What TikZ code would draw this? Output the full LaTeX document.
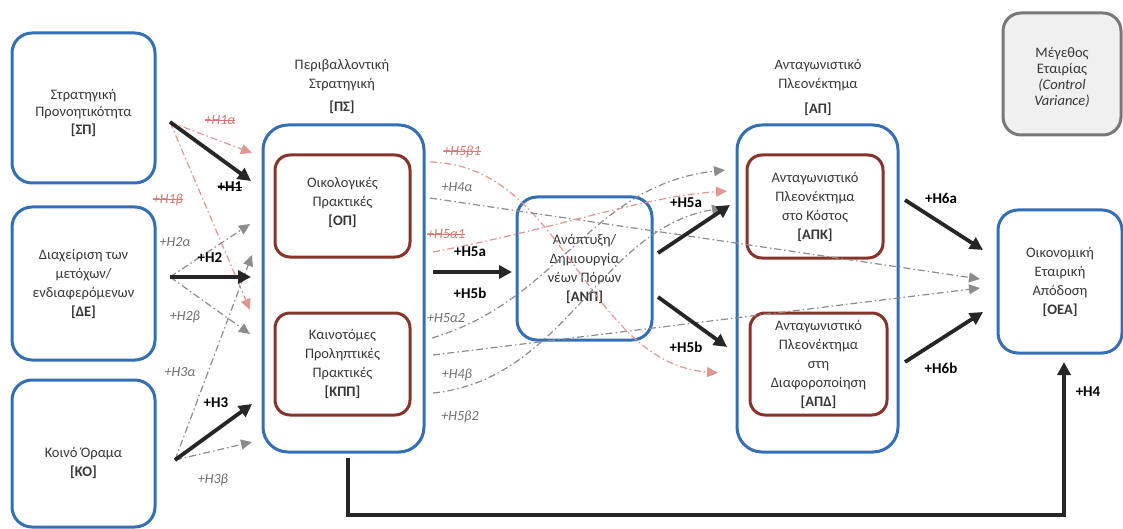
\documentclass[tikz,border=0pt]{standalone}
\usepackage{fontspec}
\setmainfont{Carlito}
\usetikzlibrary{arrows.meta}
\definecolor{bxblue}{RGB}{52,110,180}
\definecolor{bxred}{RGB}{135,50,42}
\definecolor{bxgray}{RGB}{120,120,120}
\definecolor{fillgray}{RGB}{240,240,240}
\definecolor{txt}{RGB}{55,55,55}
\definecolor{arrblk}{RGB}{38,38,38}
\definecolor{dgray}{RGB}{140,140,140}
\definecolor{dpink}{RGB}{225,150,145}
\definecolor{lgray}{RGB}{110,110,110}
\definecolor{lpink}{RGB}{215,120,115}
\newcommand{\stk}[1]{\setbox0=\hbox{#1}\rlap{\rule[0.28em]{\wd0}{0.07em}}\box0}
\begin{document}
\begin{tikzpicture}[x=1pt,y=-1pt,
  font=\fontsize{14.5}{19}\selectfont, text=txt,
  bluebox/.style={draw=bxblue, line width=3pt, rounded corners=20pt, align=center, inner sep=0pt},
  redbox/.style={draw=bxred, line width=3pt, rounded corners=15pt, align=center, inner sep=0pt},
  graybox/.style={draw=bxgray, fill=fillgray, line width=3pt, rounded corners=18pt, align=center, inner sep=0pt},
  ttl/.style={align=center},
  bigarrow/.style={draw=arrblk, line width=3.8pt, -{Triangle[length=13pt,width=13pt]}},
  dd/.style={dash pattern=on 7pt off 3pt on 1.5pt off 3pt, line width=1.2pt, -{Triangle[length=11pt,width=10pt]}},
  ddg/.style={dd, draw=dgray},
  ddp/.style={dd, draw=dpink},
  hb/.style={font=\fontsize{15}{15}\selectfont\bfseries, text=black, inner sep=0pt},
  hg/.style={font=\fontsize{14}{14}\selectfont\itshape, text=lgray, inner sep=0pt},
  hp/.style={font=\fontsize{14}{14}\selectfont\itshape, text=lpink, inner sep=0pt}
]
\useasboundingbox (0,0) rectangle (1123,529);

% ---- boxes ----
\node[bluebox, minimum width=143pt, minimum height=150pt] (sp) at (83.5,108) {};
\node[align=center, font=\fontsize{14.5}{17.5}\selectfont] (spt) at (83.5,112.5)
  {Στρατηγική\\Προνοητικότητα\\\textbf{[ΣΠ]}};
\node[bluebox, minimum width=143pt, minimum height=153pt] (de) at (83.5,283.5)
  {Διαχείριση των\\μετόχων/\\ενδιαφερόμενων\\\textbf{[ΔΕ]}};
\node[bluebox, minimum width=143pt, minimum height=147pt] (ko) at (83.5,453.5) {};
\node[align=center] (kot) at (83.5,463) {Κοινό Όραμα\\\textbf{[ΚΟ]}};

\node[bluebox, rounded corners=25pt, minimum width=161pt, minimum height=327pt] (ps) at (343.5,288.5) {};
\node[ttl] (pst) at (342,75) {Περιβαλλοντική\\Στρατηγική};
\node[font=\fontsize{14.5}{19}\selectfont\bfseries] (psc) at (342,107) {[ΠΣ]};
\node[redbox, minimum width=135pt, minimum height=102pt] (op) at (342.5,206) {};
\node[align=center] (opt) at (342.5,202) {Οικολογικές\\Πρακτικές\\\textbf{[ΟΠ]}};
\node[redbox, minimum width=135pt, minimum height=102pt] (kpp) at (342.5,364)
  {Καινοτόμες\\Προληπτικές\\Πρακτικές\\\textbf{[ΚΠΠ]}};

\node[bluebox, minimum width=135pt, minimum height=143pt] (anp) at (584.5,268.5)
  {Ανάπτυξη/\\Δημιουργία\\νέων Πόρων\\\textbf{[ΑΝΠ]}};

\node[bluebox, rounded corners=25pt, minimum width=161pt, minimum height=327pt] (ap) at (817.5,288.5) {};
\node[ttl] (apt) at (818,75) {Ανταγωνιστικό\\Πλεονέκτημα};
\node[font=\fontsize{14.5}{19}\selectfont\bfseries] (apc) at (818,109) {[ΑΠ]};
\node[redbox, minimum width=136pt, minimum height=103pt] (apk) at (815,206.5)
  {Ανταγωνιστικό\\Πλεονέκτημα\\στο Κόστος\\\textbf{[ΑΠΚ]}};
\node[redbox, minimum width=137pt, minimum height=102pt] (apd) at (818.5,364)
  {Ανταγωνιστικό\\Πλεονέκτημα\\στη\\Διαφοροποίηση\\\textbf{[ΑΠΔ]}};

\node[bluebox, minimum width=124pt, minimum height=143pt] (oea) at (1060,281.5)
  {Οικονομική\\Εταιρική\\Απόδοση\\\textbf{[ΟΕΑ]}};
\node[graybox, minimum width=118pt, minimum height=122pt] (size) at (1062,74) {};
\node[align=center, font=\fontsize{14.5}{16}\selectfont] (sizet) at (1062,77)
  {Μέγεθος\\Εταιρίας\\\textit{(Control}\\\textit{Variance)}};

% ---- connector end points ----
\coordinate (spo) at (170,122);
\coordinate (deo) at (170,277);
\coordinate (koo) at (175,460);
\coordinate (h1e) at (251,181);
\coordinate (h2e) at (251,277);
\coordinate (h3e) at (252,404);
\coordinate (h1ae) at (252,153);
\coordinate (h1be) at (250,310);
\coordinate (h2ae) at (250,224);
\coordinate (h2be) at (250,334);
\coordinate (h3ae) at (252,255);
\coordinate (h3be) at (252,442);
\coordinate (pso) at (433,272);
\coordinate (anpi) at (512,272);
\coordinate (anpa) at (658,253);
\coordinate (anpb) at (658,297);
\coordinate (apka) at (730,205);
\coordinate (apdb) at (727,347);
\coordinate (apka2) at (905,200);
\coordinate (apdb2) at (905,362);
\coordinate (oeaa) at (983,250);
\coordinate (oeab) at (983,312);
\coordinate (h4s) at (348,458);
\coordinate (h4c) at (348,515);
\coordinate (h4e) at (1064,362);
\coordinate (m1) at (430,162);
\coordinate (m2) at (430,198);
\coordinate (m3) at (433,252);
\coordinate (m4) at (432,338);
\coordinate (m5) at (433,355);
\coordinate (m6) at (433,393);
\coordinate (e1) at (718,373);
\coordinate (e2) at (980,279);
\coordinate (e3) at (727,191);
\coordinate (e4) at (725,170);
\coordinate (e5) at (980,288);
\coordinate (e6) at (723,208);

% ---- dash-dot connectors ----
\draw[ddp] (spo) -- (h1ae);
\draw[ddp] (spo) -- (h1be);
\draw[ddg] (deo) -- (h2ae);
\draw[ddg] (deo) -- (h2be);
\draw[ddg] (koo) -- (h3ae);
\draw[ddg] (koo) -- (h3be);

\draw[ddp] (m1) .. controls (565,165) and (585,362) .. (e1);
\draw[ddg] (m2) -- (e2);
\draw[ddp] (m3) .. controls (560,228) and (640,197) .. (e3);
\draw[ddg] (m4) .. controls (560,300) and (590,185) .. (e4);
\draw[ddg] (m5) -- (e5);
\draw[ddg] (m6) .. controls (565,380) and (600,228) .. (e6);

% ---- main arrows ----
\draw[bigarrow] (spo) -- (h1e);
\draw[bigarrow] (deo) -- (h2e);
\draw[bigarrow] (koo) -- (h3e);
\draw[bigarrow] (pso) -- (anpi);
\draw[bigarrow] (anpa) -- (apka);
\draw[bigarrow] (anpb) -- (apdb);
\draw[bigarrow] (apka2) -- (oeaa);
\draw[bigarrow] (apdb2) -- (oeab);
\draw[bigarrow] (h4s) -- (h4c) -| (h4e);

% ---- labels ----
\node[hb] (lh1) at (230,187) {\stk{+H1}};
\node[hb] (lh2) at (210,258) {+H2};
\node[hb] (lh3) at (216,403) {+H3};
\node[hb] (lh5a) at (470,252) {+H5a};
\node[hb] (lh5b) at (470,293) {+H5b};
\node[hb] (lh5a2) at (686,203) {+H5a};
\node[hb] (lh5b2) at (686,347) {+H5b};
\node[hb] (lh6a) at (941,198) {+H6a};
\node[hb] (lh6b) at (941,368) {+H6b};
\node[hb] (lh4) at (1088,392) {+H4};

\node[hp] (l1a) at (220,120) {\stk{+H1α}};
\node[hp] (l1b) at (168,200) {\stk{+H1β}};
\node[hg] (l2a) at (175,242) {+H2α};
\node[hg] (l2b) at (185,317) {+H2β};
\node[hg] (l3a) at (180,372) {+H3α};
\node[hg] (l3b) at (213,480) {+H3β};
\node[hp] (l5b1) at (462,152) {\stk{+H5β1}};
\node[hg] (l4a) at (457,187) {+H4α};
\node[hp] (l5a1) at (446,234) {\stk{+H5α1}};
\node[hg] (l5a2) at (446,318) {+H5α2};
\node[hg] (l4b) at (457,375) {+H4β};
\node[hg] (l5b2) at (460,417) {+H5β2};
\end{tikzpicture}
\end{document}
